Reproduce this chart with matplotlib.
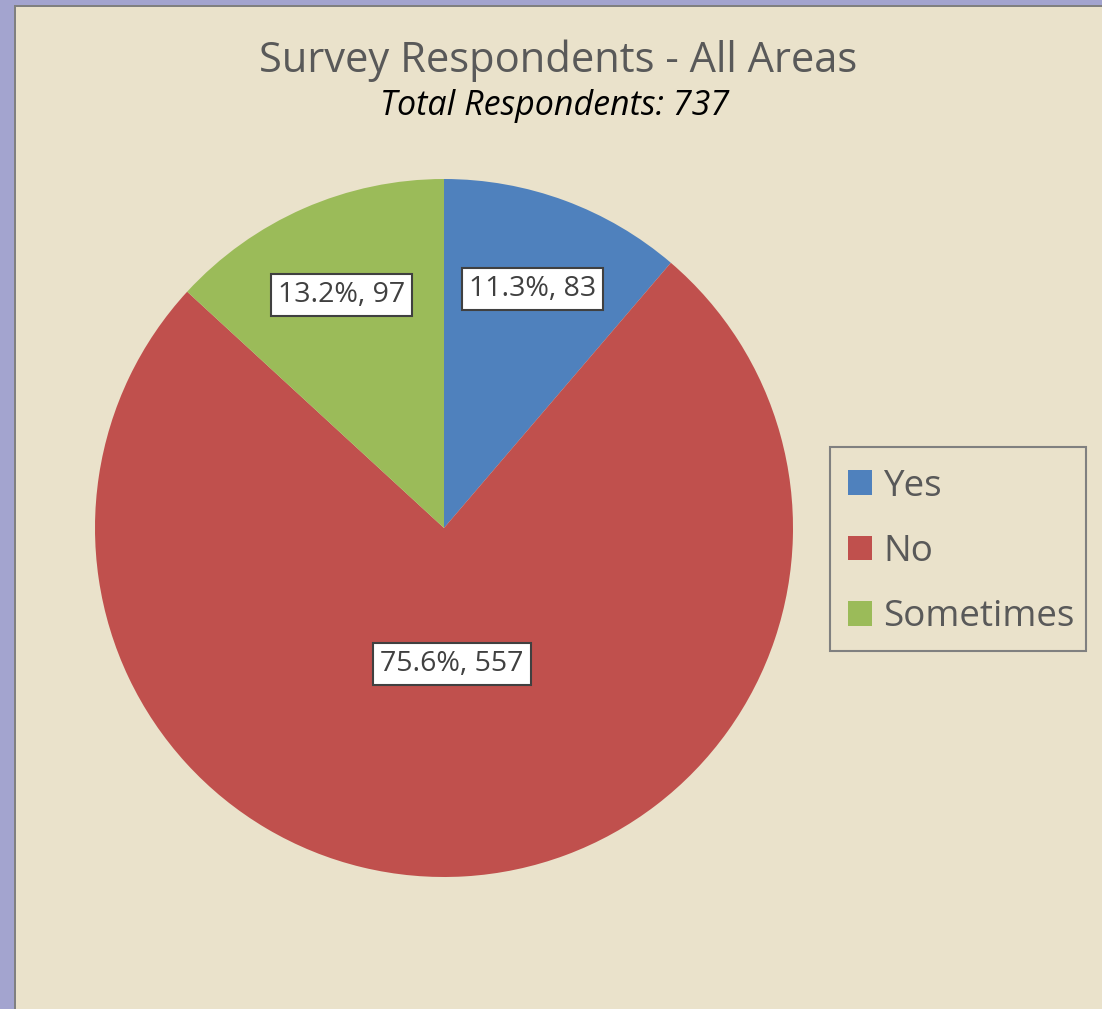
import numpy as np
import matplotlib
matplotlib.use('Agg')
import matplotlib.pyplot as plt
from matplotlib.patches import Rectangle, Patch

plt.rcParams['font.family'] = ['Open Sans', 'DejaVu Sans']

categories = ['Yes', 'No', 'Sometimes']
counts = [83, 557, 97]
colors = ['#4F81BD', '#C0504D', '#9BBB59']
label_radius = [0.73, 0.39, 0.73]

total = sum(counts)

W, H = 1102, 1009
fig = plt.figure(figsize=(W / 100, H / 100), dpi=100)
fig.patch.set_facecolor('#A3A4CF')

# chart area with grey border on the left/top edge
fig.add_artist(Rectangle((14 / W, 0), 1, 1 - 5 / H, transform=fig.transFigure,
                         facecolor='#808080', edgecolor='none', zorder=-10))
fig.add_artist(Rectangle((16 / W, 0), 1, 1 - 7 / H, transform=fig.transFigure,
                         facecolor='#EAE2CB', edgecolor='none', zorder=-9))

fig.text(558 / W, 1 - 72 / H, 'Survey Respondents - All Areas', ha='center', va='baseline',
         fontsize=30, color='#595959')
fig.text(555 / W, 1 - 115 / H, 'Total Respondents: %d' % total, ha='center', va='baseline',
         fontsize=24.5, style='italic', color='black')

cx, cy, r = 444, 528, 349
ax = fig.add_axes([(cx - r) / W, (H - cy - r) / H, 2 * r / W, 2 * r / H])
wedges, _ = ax.pie(counts, colors=colors, startangle=90, counterclock=False,
                   wedgeprops=dict(linewidth=0))
ax.set_xlim(-1, 1)
ax.set_ylim(-1, 1)
ax.set_aspect('equal')
ax.axis('off')

for w, n, lr in zip(wedges, counts, label_radius):
    ang = np.deg2rad((w.theta1 + w.theta2) / 2)
    ax.text(lr * np.cos(ang), lr * np.sin(ang), '%.1f%%, %d' % (100 * n / total, n),
            ha='center', va='center', fontsize=20.5, color='#404040',
            bbox=dict(boxstyle='square,pad=0.25', facecolor='white',
                      edgecolor='#404040', linewidth=1.5))

# legend box
fig.add_artist(Rectangle((830 / W, 1 - 651 / H), 256 / W, 204 / H, transform=fig.transFigure,
                         facecolor='none', edgecolor='#808080', linewidth=1.5))
handles = [Patch(facecolor=c, edgecolor='none') for c in colors]
leg = fig.legend(handles, categories, loc='center left',
                 bbox_to_anchor=(848 / W, 1 - 552 / H), fontsize=26.5, borderaxespad=0,
                 frameon=False, handlelength=0.65, handleheight=0.65,
                 handletextpad=0.3, labelspacing=0.8, borderpad=0,
                 labelcolor='#595959')

fig.savefig('out.png', dpi=100, facecolor=fig.get_facecolor())
